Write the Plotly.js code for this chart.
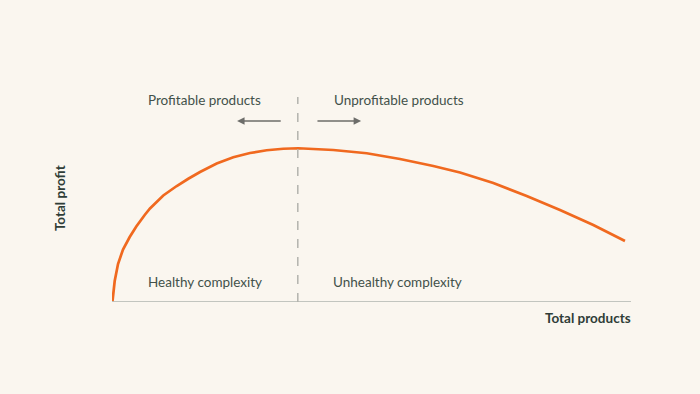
<!DOCTYPE html>
<html>
<head>
<meta charset="utf-8">
<script src="https://cdn.plot.ly/plotly-3.0.1.min.js"></script>
<style>html,body{margin:0;padding:0;background:#faf6ef;}#chart{width:700px;height:394px;}</style>
</head>
<body>
<div id="chart"></div>
<script>
// Total products (x) vs total profit (y), arbitrary units 0-100
const productsX = [0.1, 0.52, 1.16, 2.12, 3.41, 4.68, 6.30, 7.32, 9.88, 12.47, 14.70, 16.96, 20.17, 23.37, 26.59, 29.81, 33.01, 35.90, 42.64, 49.08, 55.49, 61.91, 67.05, 73.47, 79.90, 86.32, 92.74, 98.84];
const profitY   = [0.4, 8.4, 15.2, 21.0, 26.0, 30.2, 34.8, 37.4, 42.6, 46.4, 49.3, 52.0, 55.4, 57.9, 59.6, 60.7, 61.3, 61.5, 60.8, 59.5, 57.2, 54.4, 51.8, 47.6, 42.4, 36.8, 30.8, 24.4];
const peakX = 35.8;
const zoneLabels = ["Profitable products", "Unprofitable products"];
const complexityLabels = ["Healthy complexity", "Unhealthy complexity"];
const xTitle = "Total products";
const yTitle = "Total profit";

const textColor = "#42514a";
const fontFam = "Lato, 'Open Sans', sans-serif";

const trace = {
  x: productsX, y: profitY, mode: "lines", type: "scatter",
  line: {color: "#f0691f", width: 2.7, shape: "linear"},
  hoverinfo: "skip"
};

const layout = {
  width: 700, height: 394,
  paper_bgcolor: "#faf6ef", plot_bgcolor: "#faf6ef",
  margin: {l: 112, r: 69, t: 52, b: 92},
  showlegend: false,
  xaxis: {range: [0, 100], showgrid: false, zeroline: false, showticklabels: false, showline: false, ticks: "", fixedrange: true},
  yaxis: {range: [0, 100], showgrid: false, zeroline: false, showticklabels: false, showline: false, ticks: "", fixedrange: true},
  shapes: [
    {type: "line", xref: "x", yref: "y", x0: 0, x1: 100, y0: 0, y1: 0, line: {color: "#8a948f", width: 1.2}},
    {type: "line", xref: "x", yref: "y", x0: peakX, x1: peakX, y0: 0, y1: 82, line: {color: "#b3b3ad", width: 1.5, dash: "dash"}}
  ],
  annotations: [
    {x: 17.9, y: 80.8, xref: "x", yref: "y", text: zoneLabels[0], showarrow: false, font: {family: fontFam, size: 13.5, color: textColor}},
    {x: 55.3, y: 80.8, xref: "x", yref: "y", text: zoneLabels[1], showarrow: false, font: {family: fontFam, size: 13.5, color: textColor}},
    {x: 17.9, y: 8, xref: "x", yref: "y", text: complexityLabels[0], showarrow: false, font: {family: fontFam, size: 13.5, color: textColor}},
    {x: 55.1, y: 8, xref: "x", yref: "y", text: complexityLabels[1], showarrow: false, font: {family: fontFam, size: 13.5, color: textColor}},
    {x: 24.1, y: 72.4, ax: 32.8, ay: 72.4, xref: "x", yref: "y", axref: "x", ayref: "y", text: "", showarrow: true, arrowhead: 2, arrowsize: 1, arrowwidth: 1.5, arrowcolor: "#6d6d6a"},
    {x: 48.0, y: 72.4, ax: 39.3, ay: 72.4, xref: "x", yref: "y", axref: "x", ayref: "y", text: "", showarrow: true, arrowhead: 2, arrowsize: 1, arrowwidth: 1.5, arrowcolor: "#6d6d6a"},
    {x: 1.004, y: -0.064, xref: "paper", yref: "paper", xanchor: "right", yanchor: "middle", text: "<b>" + xTitle + "</b>", showarrow: false, font: {family: fontFam, size: 13.5, color: "#2f3d37"}},
    {x: -0.1, y: 0.416, xref: "paper", yref: "paper", xanchor: "center", yanchor: "middle", text: "<b>" + yTitle + "</b>", textangle: -90, showarrow: false, font: {family: fontFam, size: 13.5, color: "#2f3d37"}}
  ]
};

Plotly.newPlot("chart", [trace], layout, {displayModeBar: false, staticPlot: true});
</script>
</body>
</html>
